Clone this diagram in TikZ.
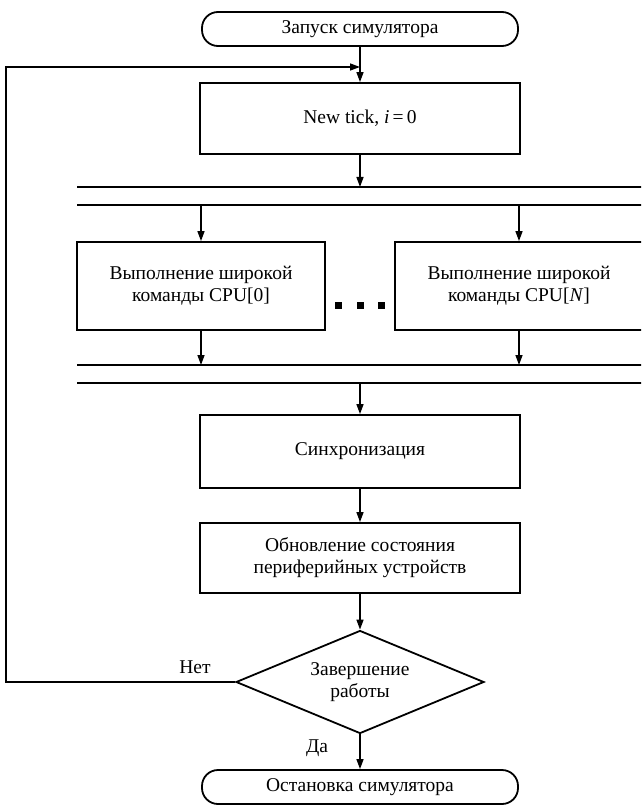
\documentclass[tikz,border=0pt]{standalone}
\usepackage{fontspec}
\setmainfont{Liberation Serif}
\usetikzlibrary{arrows.meta,shapes.geometric}

\begin{document}
\begin{tikzpicture}[x=1pt,y=-1pt,font=\fontsize{19.5}{22}\selectfont,
 term/.style={draw,line width=1.8pt,rounded corners=16pt,minimum width=316pt,minimum height=34pt,inner sep=0pt},
 blk/.style={draw,line width=1.8pt,minimum width=320pt,align=center,inner sep=0pt},
 dec/.style={draw,diamond,aspect=2.4,line width=1.8pt,minimum width=248pt,minimum height=103pt,inner sep=0pt,align=center},
 a/.style={-{Triangle[length=10pt,width=7pt]},line width=1.4pt},
 bar/.style={line width=1.8pt}]
\useasboundingbox (0,0) rectangle (641,805);
\clip (0,0) rectangle (641,805);

\node[term] (start) at (360,29) {Запуск симулятора};
\node[blk,minimum height=71pt] (tick) at (360,118.5) {New tick, \textit{i}\,=\,0};

% fork / join bars
\coordinate (b1) at (77,187);
\coordinate (b2) at (77,205);
\coordinate (b3) at (77,365);
\coordinate (b4) at (77,383);
\foreach \b in {b1,b2,b3,b4} \draw[bar] (\b) -- ++(566,0);

\node[blk,minimum width=248pt,minimum height=88pt] (cpu0) at (201,286) {Выполнение широкой\\команды CPU[0]};
\node[blk,minimum width=248pt,minimum height=88pt] (cpuN) at (519,286) {Выполнение широкой\\команды CPU[\textit{N}]};
\foreach \x in {338.5,360,381.5} \fill (\x-3.5,301.5) rectangle (\x+3.5,308.5);

\node[blk,minimum height=73pt] (sync) at (360,451.5) {Синхронизация};
\node[blk,minimum height=70pt] (upd) at (360,558) {Обновление состояния\\периферийных устройств};
\node[dec] (done) at (360,682) {Завершение\\работы};
\node[term] (stop) at (360,787) {Остановка симулятора};

\coordinate (join) at (360,67);
\coordinate (lft) at (6,682);

\draw[a] (start) -- (tick);
\draw[a] (tick) -- (tick |- b1);
\draw[a] (cpu0 |- b2) -- (cpu0);
\draw[a] (cpuN |- b2) -- (cpuN);
\draw[a] (cpu0) -- (cpu0 |- b3);
\draw[a] (cpuN) -- (cpuN |- b3);
\draw[a] (sync |- b4) -- (sync);
\draw[a] (sync) -- (upd);
\draw[a] (upd) -- (done);
\draw[a] (done) -- node[left=28pt,pos=0.4]{Да} (stop);
\draw[a] (done.west) -- node[above=4pt,pos=0.175]{Нет} (lft) |- (join);
\end{tikzpicture}
\end{document}
